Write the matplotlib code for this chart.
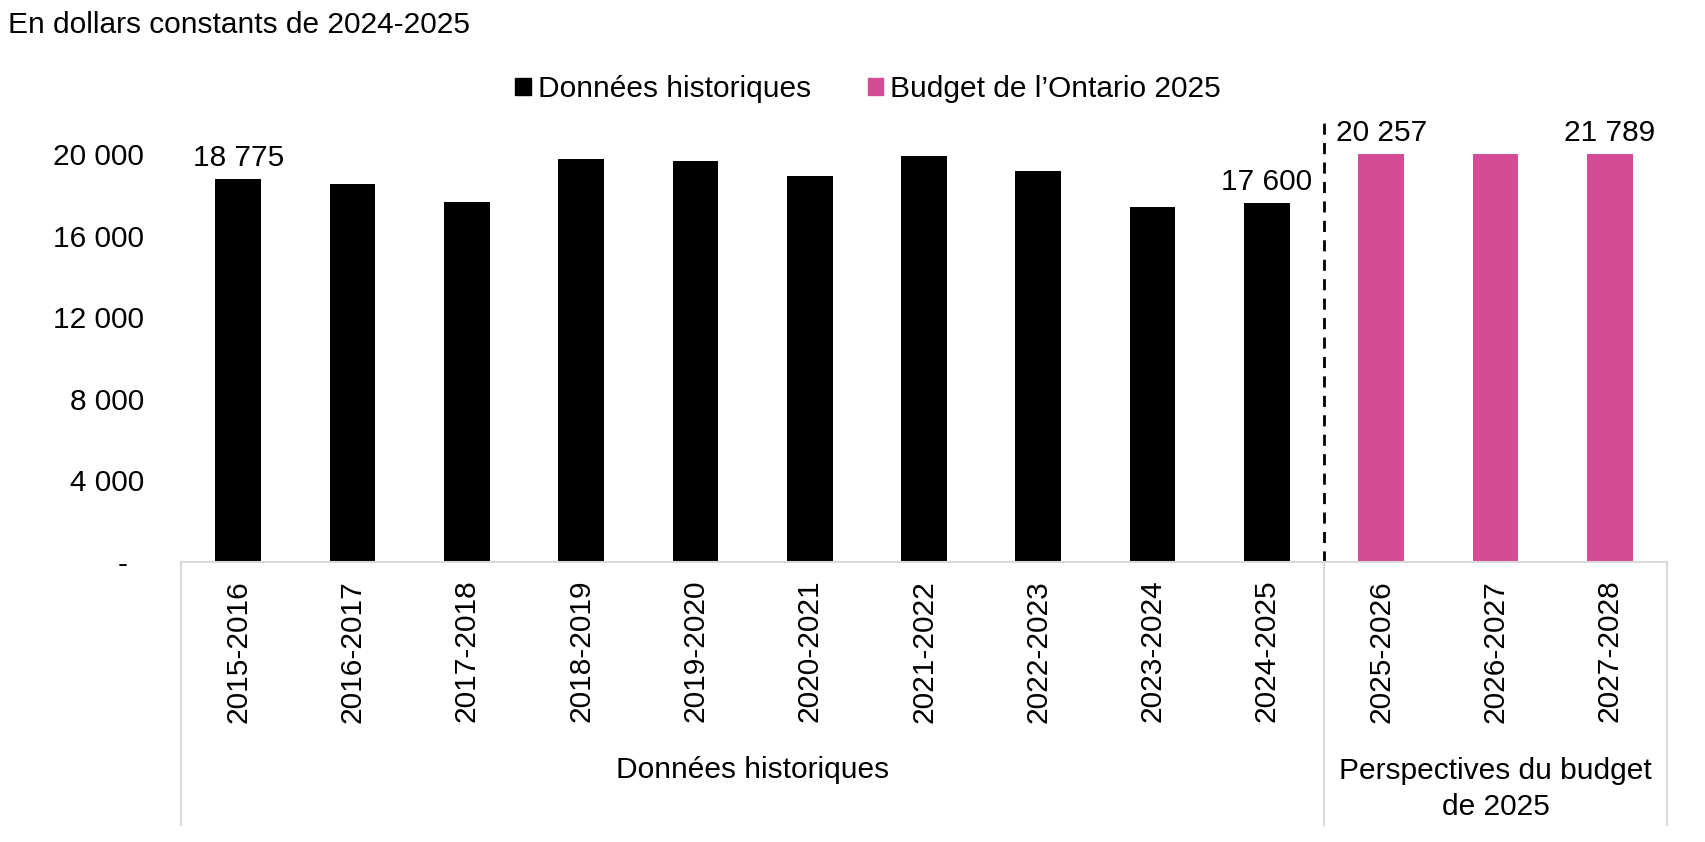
import numpy as np
import matplotlib
matplotlib.use('Agg')
import matplotlib.pyplot as plt
from matplotlib.lines import Line2D
from matplotlib.patches import Patch

plt.rcParams['font.family'] = ['Liberation Sans', 'DejaVu Sans']

years = ['2015-2016', '2016-2017', '2017-2018', '2018-2019', '2019-2020',
         '2020-2021', '2021-2022', '2022-2023', '2023-2024', '2024-2025',
         '2025-2026', '2026-2027', '2027-2028']
historical = [18775, 18540, 17645, 19770, 19690, 18950, 19930, 19165, 17430, 17600]
budget = [20257, 21000, 21789]
labelled = {0: '18 775', 9: '17 600', 10: '20 257', 12: '21 789'}
y_ticks = [0, 4000, 8000, 12000, 16000, 20000]
y_max = 20000

black = '#000000'
pink = '#D34C94'
grey = '#D9D9D9'
fs = 21.5

fig = plt.figure(figsize=(17.06, 8.42), dpi=100)
ax = fig.add_axes([181 / 1706, 1 - 561.7 / 842, (1667 - 181) / 1706, (561.7 - 154.3) / 842])

values = historical + budget
colors = [black] * len(historical) + [pink] * len(budget)
x = np.arange(len(years))
ax.bar(x, values, width=0.4, color=colors)

ax.set_xlim(-0.5, len(years) - 0.5)
ax.set_ylim(0, y_max)

# Axes styling
for side in ['top', 'right', 'left']:
    ax.spines[side].set_visible(False)
ax.spines['bottom'].set_color(grey)
ax.spines['bottom'].set_linewidth(1.5)

ax.set_yticks(y_ticks)
ax.set_yticklabels(['-  '] + [f'{v:,}'.replace(',', ' ') for v in y_ticks[1:]])
ax.tick_params(axis='y', length=0, pad=26.5, labelsize=fs)
ax.set_xticks(x)
ax.set_xticklabels(years, rotation=90, va='top')
ax.tick_params(axis='x', length=0, pad=13, labelsize=fs)

# Data labels
for i, txt in labelled.items():
    top = min(values[i], y_max)
    ax.annotate(txt, (x[i], top), xytext=(0, 15), textcoords='offset points',
                ha='center', va='center', fontsize=fs, annotation_clip=False)

# Dashed separator between history and outlook
sep = len(historical) - 0.5
ax.plot([sep, sep], [0, 1.084], transform=ax.get_xaxis_transform(), color=black,
        linestyle=(0, (4, 3)), linewidth=2, clip_on=False)

# Category group lines below the axis
bottom = (561.7 - 825) / 407.4
for xv in [-0.5, sep, len(years) - 0.5]:
    ax.add_line(Line2D([xv, xv], [0, bottom], transform=ax.get_xaxis_transform(),
                       color=grey, linewidth=1.5, clip_on=False))

ax.text((len(historical) - 1) / 2, (561.7 - 770) / 407.4, 'Données historiques',
        transform=ax.get_xaxis_transform(), ha='center', va='center', fontsize=fs)
ax.text(len(historical) + 1, (561.7 - 789) / 407.4, 'Perspectives du budget\nde 2025',
        transform=ax.get_xaxis_transform(), ha='center', va='center', fontsize=fs,
        linespacing=1.35)

# Title and legend
fig.text(8 / 1706, 1 - 25 / 842, 'En dollars constants de 2024-2025',
         ha='left', va='center', fontsize=fs)
handles = [Patch(color=black, label='Données historiques'),
           Patch(color=pink, label='Budget de l’Ontario 2025')]
fig.legend(handles=handles, loc='center', bbox_to_anchor=(868 / 1706, 1 - 89 / 842),
           ncol=2, frameon=False, fontsize=fs, handlelength=0.53, handleheight=0.53,
           handletextpad=0.23, columnspacing=1.9)

fig.savefig('out.png', dpi=100)
